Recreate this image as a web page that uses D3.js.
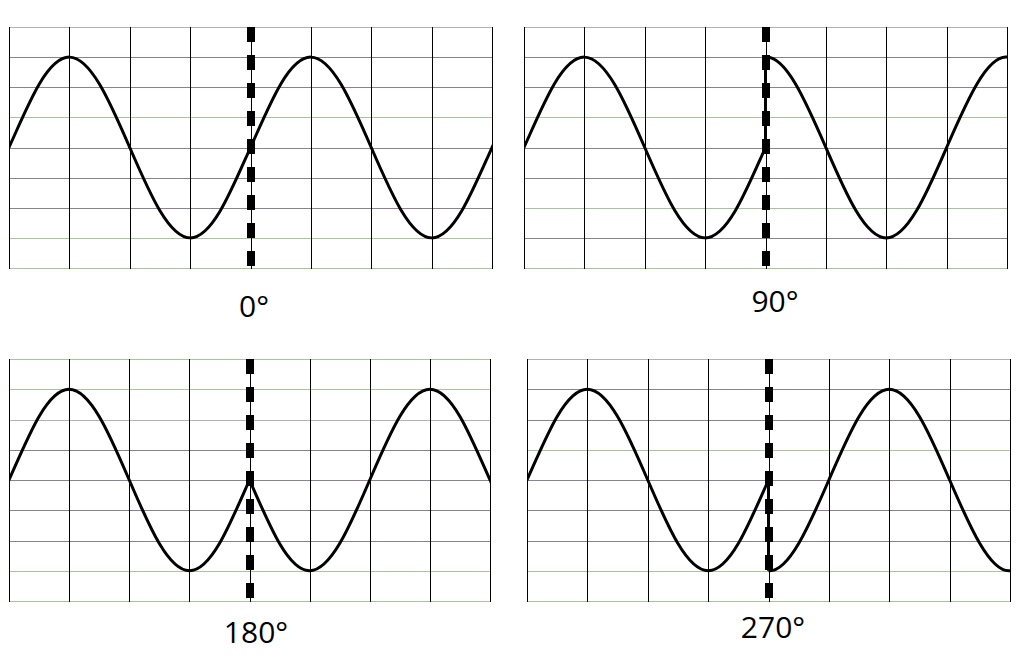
<!DOCTYPE html>
<html><head><meta charset="utf-8">
<script src="https://cdn.jsdelivr.net/npm/d3@7"></script>
<style>body{margin:0;background:#fff}svg{display:block}</style>
</head><body>
<svg id="c" width="1024" height="664"></svg>
<script>
// ---- data ----
const labels = ["0°", "90°", "180°", "270°"];
const phaseShifts = [0, 90, 180, 270];
// wave read every 45° (grid units, ±4 full scale); first sample sits 45° before the segment start
// (drawn clipped, so only the segment itself shows)
const beforeValues = [-2.1, 0, 2.1, 3, 2.1, 0, -2.1, -3, -2.1, 0, 2.1];
const afterValues0 = [-2.1, 0, 2.1, 3, 2.1, 0, -2.1, -3, -2.1, 0, 2.1];
const afterValues90 = [2.1, 3, 2.1, 0, -2.1, -3, -2.1, 0, 2.1, 3, 2.1];
const afterValues180 = [2.1, 0, -2.1, -3, -2.1, 0, 2.1, 3, 2.1, 0, -2.1];
const afterValues270 = [-2.1, -3, -2.1, 0, 2.1, 3, 2.1, 0, -2.1, -3, -2.1];
const afterSets = [afterValues0, afterValues90, afterValues180, afterValues270];
const xTicks = [0, 90, 180, 270, 360, 450, 540, 630, 720];
const yTicks = [4, 3, 2, 1, 0, -1, -2, -3, -4];
const switchAt = 360;

// ---- layout / style ----
const panels = [
  {x0: 9, x1: 492, y0: 27, y1: 268, lx: 254, ly: 317},
  {x0: 524, x1: 1007, y0: 27, y1: 268, lx: 775, ly: 312},
  {x0: 9, x1: 490, y0: 359, y1: 601, lx: 256, ly: 643},
  {x0: 527, x1: 1010, y0: 359, y1: 601, lx: 773, ly: 638}
];
const G = "#a9c2a0", P = "#8a8290", L = "#b4b0b8";
const hColors = [
  [L, P, P, G, P, P, P, G, G],
  [L, P, P, G, P, P, G, P, G],
  [G, G, L, P, P, P, P, G, G],
  [L, P, P, G, P, P, P, G, G]
];

const svg = d3.select("#c");
const defs = svg.append("defs");
const step = 45;

panels.forEach((p, i) => {
  const x = d3.scaleLinear().domain([0, 720]).range([p.x0, p.x1]);
  const y = d3.scaleLinear().domain([-4, 4]).range([p.y1, p.y0]);
  const g = svg.append("g");

  defs.append("clipPath").attr("id", "cb" + i).append("rect")
    .attr("x", x(0)).attr("y", p.y0 - 5).attr("width", x(switchAt) - x(0)).attr("height", p.y1 - p.y0 + 10);
  defs.append("clipPath").attr("id", "ca" + i).append("rect")
    .attr("x", x(switchAt)).attr("y", p.y0 - 5).attr("width", x(720) - x(switchAt)).attr("height", p.y1 - p.y0 + 10);

  // horizontal grid
  g.selectAll("line.h").data(yTicks).join("line")
    .attr("x1", p.x0).attr("x2", p.x1)
    .attr("y1", d => Math.round(y(d)) + 0.5).attr("y2", d => Math.round(y(d)) + 0.5)
    .attr("stroke", (d, k) => hColors[i][k]).attr("stroke-width", 1);
  // vertical grid
  g.selectAll("line.v").data(xTicks).join("line")
    .attr("x1", d => Math.round(x(d)) + 0.5).attr("x2", d => Math.round(x(d)) + 0.5)
    .attr("y1", p.y0).attr("y2", p.y1 + 1)
    .attr("stroke", "#000").attr("stroke-width", 1);

  const line = d3.line().x(d => x(d[0])).y(d => y(d[1])).curve(d3.curveNatural);
  const before = beforeValues.map((v, k) => [-step + k * step, v]);
  const after = afterSets[i].map((v, k) => [switchAt - step + k * step, v]);
  g.append("path").attr("d", line(before)).attr("fill", "none")
    .attr("clip-path", "url(#cb" + i + ")")
    .attr("stroke", "#000").attr("stroke-width", 3).attr("stroke-linejoin", "round");
  g.append("path").attr("d", line(after)).attr("fill", "none")
    .attr("clip-path", "url(#ca" + i + ")")
    .attr("stroke", "#000").attr("stroke-width", 3).attr("stroke-linejoin", "round");
  // jump connection at the switch point
  g.append("line")
    .attr("x1", x(switchAt)).attr("x2", x(switchAt))
    .attr("y1", y(beforeValues[beforeValues.length - 2])).attr("y2", y(afterSets[i][1]))
    .attr("stroke", "#000").attr("stroke-width", 3);

  // dashed switch marker
  g.append("line")
    .attr("x1", x(switchAt) + 0.5).attr("x2", x(switchAt) + 0.5)
    .attr("y1", p.y0).attr("y2", p.y1)
    .attr("stroke", "#000").attr("stroke-width", 8)
    .attr("stroke-dasharray", "15,13");

  svg.append("text").attr("x", p.lx).attr("y", p.ly)
    .attr("text-anchor", "middle")
    .attr("font-family", "'Open Sans', sans-serif").attr("font-size", 30)
    .attr("fill", "#000").text(labels[i]);
});
</script>
</body></html>
